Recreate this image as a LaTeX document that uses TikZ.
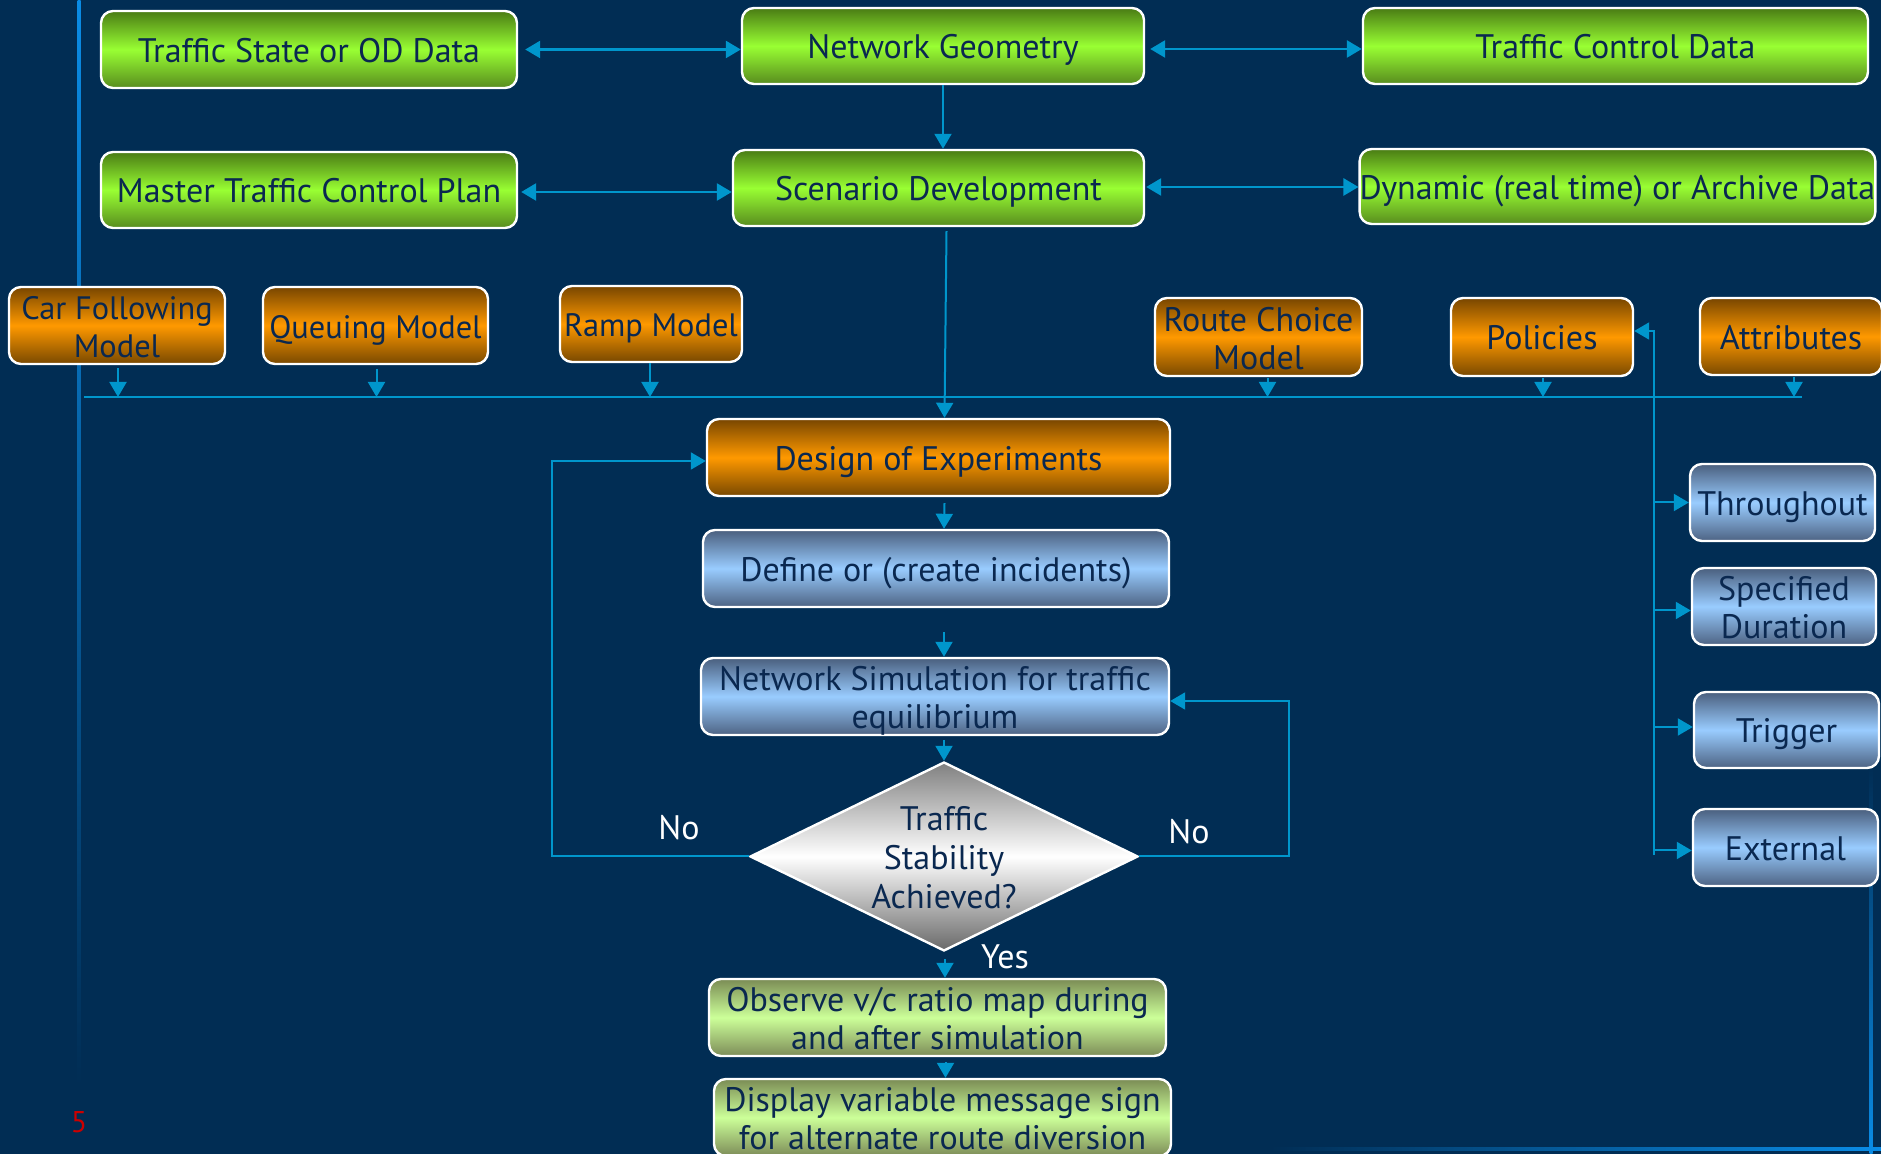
\documentclass[tikz,border=0pt]{standalone}
\usepackage{fontspec}
\setmainfont{PT Sans}
\usetikzlibrary{arrows.meta,calc,shapes.geometric}
\definecolor{bg}{RGB}{1,45,84}
\definecolor{ln}{RGB}{0,150,204}
\definecolor{deco}{RGB}{10,140,230}
\definecolor{txt}{RGB}{10,40,80}
\definecolor{gTop}{RGB}{74,124,20}
\definecolor{gMid}{RGB}{153,255,51}
\definecolor{gBot}{RGB}{88,140,30}
\definecolor{oTop}{RGB}{120,70,0}
\definecolor{oMid}{RGB}{255,153,0}
\definecolor{oBot}{RGB}{120,72,0}
\definecolor{bTop}{RGB}{74,95,126}
\definecolor{bMid}{RGB}{153,204,255}
\definecolor{bBot}{RGB}{77,99,131}
\definecolor{pTop}{RGB}{123,140,85}
\definecolor{pMid}{RGB}{204,255,153}
\definecolor{pBot}{RGB}{125,140,88}
\definecolor{dTop}{RGB}{128,128,128}
\definecolor{dBot}{RGB}{105,105,105}
\definecolor{pgred}{RGB}{204,0,0}
\newcommand\onestrut{\rule[-4pt]{0pt}{20.8pt}}
\newcommand\twol[2]{\raisebox{-2.8pt}[\height][\depth]{\begin{tabular}{@{}c@{}}#1\\#2\end{tabular}}}
\begin{document}
\begin{tikzpicture}[x=0.5pt,y=-0.5pt,
  txtfont/.style={font=\fontsize{17}{19}\selectfont},
  smallfont/.style={font=\fontsize{16.2}{19}\selectfont},
  box/.style={draw=white, line width=1.2pt, rounded corners=6pt, inner sep=0pt, text=txt, align=center, txtfont,
    execute at begin node={\onestrut}},
  two/.style={execute at begin node={}},
  sz/.style 2 args={minimum width=#1*0.5pt, minimum height=#2*0.5pt},
  gbox/.style={box, top color=gTop, bottom color=gBot, middle color=gMid},
  obox/.style={box, top color=oTop, bottom color=oBot, middle color=oMid},
  bbox/.style={box, top color=bTop, bottom color=bBot, middle color=bMid},
  pbox/.style={box, top color=pTop, bottom color=pBot, middle color=pMid},
  lbl/.style={text=white, txtfont, inner sep=0pt},
  conn/.style={draw=ln, line width=1pt},
  arr/.style={conn, -{Triangle[length=7.5pt,width=8.5pt]}},
  darr/.style={conn, line width=1.3pt, {Triangle[length=7.5pt,width=8.5pt]}-{Triangle[length=7.5pt,width=8.5pt]}}
]
\useasboundingbox (0,0) rectangle (1881,1154);
\fill[bg] (0,0) rectangle (1881,1154);
% slide decoration lines
\shade[top color=deco, bottom color=bg] (77.5,0) rectangle (80.5,1085);
\shade[top color=bg, bottom color=deco] (1869.5,765) rectangle (1872.5,1154);
\shade[left color=bg, right color=deco] (1270,1147.5) rectangle (1881,1150.5);

% top green boxes
\node[gbox, sz={416}{77}] (ts) at (309,49.5) {Traffic State or OD Data};
\node[gbox, sz={402}{76}] (ng) at (943,46) {Network Geometry};
\node[gbox, sz={505}{76}] (tcd) at (1615.5,46) {Traffic Control Data};
\node[gbox, sz={416}{76}] (mtcp) at (309,190) {Master Traffic Control Plan};
\node[gbox, sz={411}{76}] (sd) at (938.5,188) {Scenario Development};
\node[gbox, sz={513}{75}] (dyn) at (1617.5,186.5) {Dynamic (real time) or Archive Data};

% orange boxes
\node[obox, two, smallfont, sz={216}{77}] (cfm) at (117,325.5) {\twol{Car Following}{Model}};
\node[obox, smallfont, sz={225}{77}] (qm) at (375.5,325.5) {Queuing Model};
\node[obox, smallfont, sz={182}{76}] (rm) at (651,324) {Ramp Model};
\node[obox, two, sz={207}{78}] (rcm) at (1258.5,337) {\twol{Route Choice}{Model}};
\node[obox, sz={182}{78}] (pol) at (1542,337) {Policies};
\node[obox, sz={182}{77}] (att) at (1791,336.5) {Attributes};
\node[obox, sz={463}{77}] (doe) at (938.5,457.5) {Design of Experiments};

% central flow
\node[bbox, sz={466}{77}] (def) at (936,568.5) {Define or (create incidents)};
\node[bbox, two, sz={468}{77}] (sim) at (935,696.5) {\twol{Network Simulation for traffic}{equilibrium}};
\node[diamond, draw=white, line width=1.2pt, top color=dTop, bottom color=dBot, middle color=white, minimum width=388*0.5pt, minimum height=189*0.5pt, inner sep=0pt] (dia) at (944,856.5) {};
\node[text=txt, align=center, font=\fontsize{17}{19.5}\selectfont, inner sep=0pt] (diatext) at (944,858) {Traffic\\Stability\\Achieved?};
\node[pbox, two, sz={457}{77}] (obs) at (937.5,1017.5) {\twol{Observe v/c ratio map during}{and after simulation}};
\node[pbox, two, sz={457}{77}] (disp) at (942.5,1117.5) {\twol{Display variable message sign}{for alternate route diversion}};

% right blue boxes
\node[bbox, sz={185}{77}] (thr) at (1782.5,502.5) {Throughout};
\node[bbox, two, sz={184}{77}] (spec) at (1784,606.5) {\twol{Specified}{Duration}};
\node[bbox, sz={185}{76}] (trig) at (1786.5,730) {Trigger};
\node[bbox, sz={185}{77}] (ext) at (1785.5,847.5) {External};

% labels
\node[lbl] (nol) at (679,828) {No};
\node[lbl] (nor) at (1189,832) {No};
\node[lbl] (yes) at (1005,957) {Yes};
\node[text=pgred, font=\fontsize{15}{18}\selectfont, inner sep=0pt] (pg) at (79,1122) {5};

% top connectors
\coordinate (a1) at ($(ts.east)+(7,0)$);
\draw[darr] (a1) -- (a1 -| ng.west);
\coordinate (a2) at ($(ng.east)+(5,3)$);
\draw[darr] (a2) -- (a2 -| tcd.west);
\coordinate (a3) at ($(mtcp.east)+(3,2)$);
\draw[darr] (a3) -- (a3 -| sd.west);
\coordinate (a4) at ($(sd.east)+(1,-1)$);
\draw[darr] (a4) -- (a4 -| dyn.west);
\draw[arr] (ng.south) -- (ng.south |- sd.north);

% bus line
\coordinate (busL) at (84,397);
\coordinate (busR) at (1802,397);
\draw[conn] (busL) -- (busR);
\coordinate (b1) at ($(cfm.south)+(1,3)$);
\coordinate (b2) at ($(qm.south)+(1,4)$);
\coordinate (b3) at ($(rm.south)+(-1,0)$);
\coordinate (b4) at ($(rcm.south)+(9,1)$);
\coordinate (b5) at ($(pol.south)+(1,1)$);
\coordinate (b6) at ($(att.south)+(3,1)$);
\foreach \b in {b1,b2,b3,b4,b5,b6} \draw[arr] (\b) -- (\b |- busL);

% scenario -> design
\draw[arr] ($(sd.south)+(8,4)$) -- ($(doe.north)+(6,0)$);

% central arrows
\draw[arr] ($(doe.south)+(6,6)$) -- ($(def.north)+(8,0)$);
\draw[arr] ($(def.south)+(8,24)$) -- ($(sim.north)+(9,0)$);
\draw[arr] ($(sim.south)+(9,4)$) -- (dia.north);
\draw[arr] ($(dia.south)+(1,7)$) -- ($(obs.north)+(7.5,0)$);
\draw[arr] ($(obs.south)+(8,5)$) -- ($(disp.north)+(3,0)$);

% No loops
\coordinate (lp) at (552,461);
\draw[arr] (dia.west) -| (lp) -- (lp -| doe.west);
\coordinate (rp) at (1289,701);
\draw[arr] (dia.east) -| (rp) -- (rp -| sim.east);

% policies loop
\coordinate (pt) at (1654,331);
\coordinate (pb) at (1654,855);
\draw[arr] (pb) -- (pt) -- (pt -| pol.east);
\coordinate (e1) at (thr.west);
\coordinate (e2) at ($(spec.west)+(0,4)$);
\coordinate (e3) at ($(trig.west)+(0,-3)$);
\coordinate (e4) at ($(ext.west)+(0,3)$);
\foreach \e in {e1,e2,e3,e4} \draw[arr] (\e -| pb) -- (\e);
\end{tikzpicture}
\end{document}
